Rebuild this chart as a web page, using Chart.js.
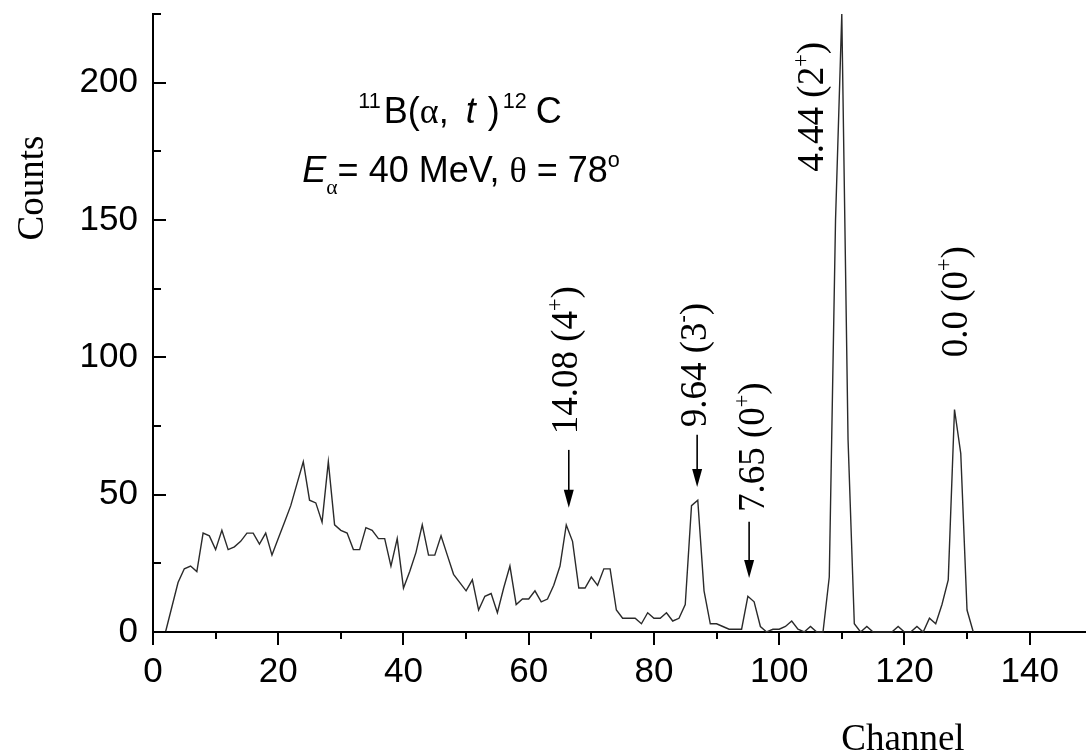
<!DOCTYPE html>
<html>
<head>
<meta charset="utf-8">
<title>11B(a,t)12C spectrum</title>
<script src="https://cdn.jsdelivr.net/npm/chart.js@4.4.0/dist/chart.umd.min.js"></script>
<style>
  html, body { margin: 0; padding: 0; background: #fff; }
  #wrap { width: 1086px; height: 756px; }
</style>
</head>
<body>
<div id="wrap"><canvas id="spectrum" width="1086" height="756"></canvas></div>
<script>
// spectrum: one point per channel
const channels = [2,3,4,5,6,7,8,9,10,11,12,13,14,15,16,17,18,19,20,21,22,23,24,25,26,27,28,29,30,31,
  32,33,34,35,36,37,38,39,40,41,42,43,44,45,46,47,48,49,50,51,52,53,54,55,56,57,58,59,60,61,
  62,63,64,65,66,67,68,69,70,71,72,73,74,75,76,77,78,79,80,81,82,83,84,85,86,87,88,89,90,91,
  92,93,94,95,96,97,98,99,100,101,102,103,104,105,106,107,108,109,110,111,112,113,114,115,116,117,118,119,120,121,
  122,123,124,125,126,127,128,129,130,131];
const counts = [0,9,18,23,24,22,36,35,30,37,
  30,31,33,36,36,32,36,28,34,40,
  46,54,62,48,47,40,62,39,37,36,
  30,30,38,37,34,34,24,34,16,22,
  29,39,28,28,35,28,21,18,15,19,
  8,13,14,7,16,24,10,12,12,15,
  11,12,17,24,39,33,16,16,20,17,
  23,23,8,5,5,5,3,7,5,5,
  7,4,5,10,46,48,15,3,3,2,
  1,1,1,13,11,2,0,1,1,2,
  4,1,0,2,0,0,20,150,225,70,
  3,0,2,0,0,0,0,2,0,0,
  2,0,5,3,10,19,81,65,8,0];

// axes
const xMin = 0, xMax = 149, xStep = 20, xMinor = 10;
const yMin = 0, yMax = 225, yStep = 50, yMinor = 25, yLastLabel = 200;

// peak labels (excitation energy in MeV, spin, parity)
const peakEnergy = ['14.08', '9.64', '7.65', '4.44', '0.0'];
const peakSpin = ['4', '3', '0', '2', '0'];
const peakParity = ['+', '-', '+', '+', '+'];
// where each label starts, in channel / counts
const peakLabelX = [65.8, 86.3, 95.7, 105.1, 128.0];
const peakLabelY = [72, 74.5, 43.7, 167.6, 100];
// arrows (only the first three peaks have one)
const arrowX = [66.4, 86.9, 95.2];
const arrowFrom = [66.3, 71.8, 40.1];
const arrowTo = [45.2, 52.8, 19.7];

const SANS = '"Liberation Sans", Arial, sans-serif';
const SERIF = '"Liberation Serif", "Times New Roman", serif';

// draws a run of text pieces (sup / sub / italic / serif) from x along the baseline
function drawRich(ctx, segs, x, y, size, align) {
  const parts = segs.map(s => {
    const fs = (s.sup || s.sub) ? size * 0.6 : size;
    const font = (s.it ? 'italic ' : '') + fs + 'px ' + (s.serif ? SERIF : SANS);
    ctx.font = font;
    return { t: s.t, font, w: ctx.measureText(s.t).width + (s.gap || 0),
      dy: s.sup ? -size * 0.42 : (s.sub ? size * 0.32 : 0) };
  });
  const total = parts.reduce((a, p) => a + p.w, 0);
  let cx = align === 'center' ? x - total / 2 : x;
  parts.forEach(p => {
    ctx.font = p.font;
    ctx.fillText(p.t, cx, y + p.dy);
    cx += p.w;
  });
}

const decorations = {
  id: 'decorations',
  afterDraw(chart) {
    const { ctx, chartArea: area } = chart;
    const xs = chart.scales.x, ys = chart.scales.y;
    ctx.save();
    ctx.strokeStyle = '#000';
    ctx.fillStyle = '#000';
    ctx.lineWidth = 2;

    // tick marks: x outward, y inward
    ctx.beginPath();
    for (let v = xMin; v <= xMax; v += xMinor) {
      const px = Math.round(xs.getPixelForValue(v));
      ctx.moveTo(px, area.bottom);
      ctx.lineTo(px, area.bottom + (v % xStep === 0 ? 13 : 7));
    }
    for (let v = yMin; v <= yMax; v += yMinor) {
      const py = Math.round(ys.getPixelForValue(v));
      ctx.moveTo(area.left, py);
      ctx.lineTo(area.left + (v % yStep === 0 ? 13 : 8), py);
    }
    ctx.stroke();

    // axis titles
    ctx.textBaseline = 'alphabetic';
    ctx.textAlign = 'center';
    ctx.font = '37px ' + SERIF;
    ctx.fillText('Channel', 903, 750);
    ctx.save();
    ctx.translate(43, 188);
    ctx.rotate(-Math.PI / 2);
    ctx.fillText('Counts', 0, 0);
    ctx.restore();

    // reaction title
    ctx.textAlign = 'left';
    drawRich(ctx, [
      { t: '11', sup: 1, gap: 3 }, { t: 'B(' }, { t: 'α', serif: 1 }, { t: ', ', gap: 7 },
      { t: 't', it: 1, gap: 2 }, { t: ' )', gap: 3 }, { t: '12', sup: 1, gap: 9 }, { t: 'C' }
    ], 460, 123, 36, 'center');
    drawRich(ctx, [
      { t: 'E', it: 1 }, { t: 'α', sub: 1, serif: 1 }, { t: '= 40 MeV, ' },
      { t: 'θ', serif: 1 }, { t: ' = 78' }, { t: 'o', sup: 1 }
    ], 461, 182, 36, 'center');

    // peak labels, rotated
    const lsize = 37;
    peakEnergy.forEach((e, i) => {
      const px = xs.getPixelForValue(peakLabelX[i]);
      const py = ys.getPixelForValue(peakLabelY[i]);
      ctx.save();
      ctx.translate(px + lsize * 0.33, py);
      ctx.rotate(-Math.PI / 2);
      drawRich(ctx, [
        { t: e + ' (' + peakSpin[i], serif: 1 },
        { t: peakParity[i], sup: 1, serif: 1 },
        { t: ')', serif: 1 }
      ], 0, 0, lsize, 'left');
      ctx.restore();
    });

    // arrows
    ctx.lineWidth = 1.6;
    arrowX.forEach((a, i) => {
      const px = xs.getPixelForValue(a);
      const y0 = ys.getPixelForValue(arrowFrom[i]);
      const y1 = ys.getPixelForValue(arrowTo[i]);
      ctx.beginPath();
      ctx.moveTo(px, y0);
      ctx.lineTo(px, y1 - 16);
      ctx.stroke();
      ctx.beginPath();
      ctx.moveTo(px - 5, y1 - 18);
      ctx.lineTo(px + 5, y1 - 18);
      ctx.lineTo(px, y1);
      ctx.closePath();
      ctx.fill();
    });
    ctx.restore();
  }
};

new Chart(document.getElementById('spectrum'), {
  type: 'line',
  data: {
    datasets: [{
      label: 'Counts',
      data: channels.map((c, i) => ({ x: c, y: counts[i] })),
      borderColor: '#2a2a2a',
      borderWidth: 1.4,
      pointRadius: 0,
      tension: 0,
      fill: false,
      clip: false
    }]
  },
  options: {
    responsive: false,
    animation: false,
    layout: { padding: { top: 14, right: 0, left: 0, bottom: 0 } },
    plugins: { legend: { display: false }, tooltip: { enabled: false } },
    scales: {
      x: {
        type: 'linear',
        min: xMin, max: xMax,
        afterFit: s => { s.height = 124; s.paddingLeft = 0; s.paddingRight = 0; },
        afterBuildTicks: s => {
          s.ticks = [];
          for (let v = xMin; v <= xMax; v += xStep) s.ticks.push({ value: v });
        },
        ticks: { color: '#000', font: { family: SANS, size: 35 }, padding: 19, maxRotation: 0 },
        grid: { display: false, drawTicks: false },
        border: { display: true, color: '#000', width: 2 }
      },
      y: {
        min: yMin, max: yMax,
        afterFit: s => { s.width = 153; s.paddingTop = 0; s.paddingBottom = 0; },
        afterBuildTicks: s => {
          s.ticks = [];
          for (let v = yMin; v <= yLastLabel; v += yStep) s.ticks.push({ value: v });
        },
        ticks: { color: '#000', font: { family: SANS, size: 35 }, padding: 15 },
        grid: { display: false, drawTicks: false },
        border: { display: true, color: '#000', width: 2 }
      }
    }
  },
  plugins: [decorations]
});
</script>
</body>
</html>
